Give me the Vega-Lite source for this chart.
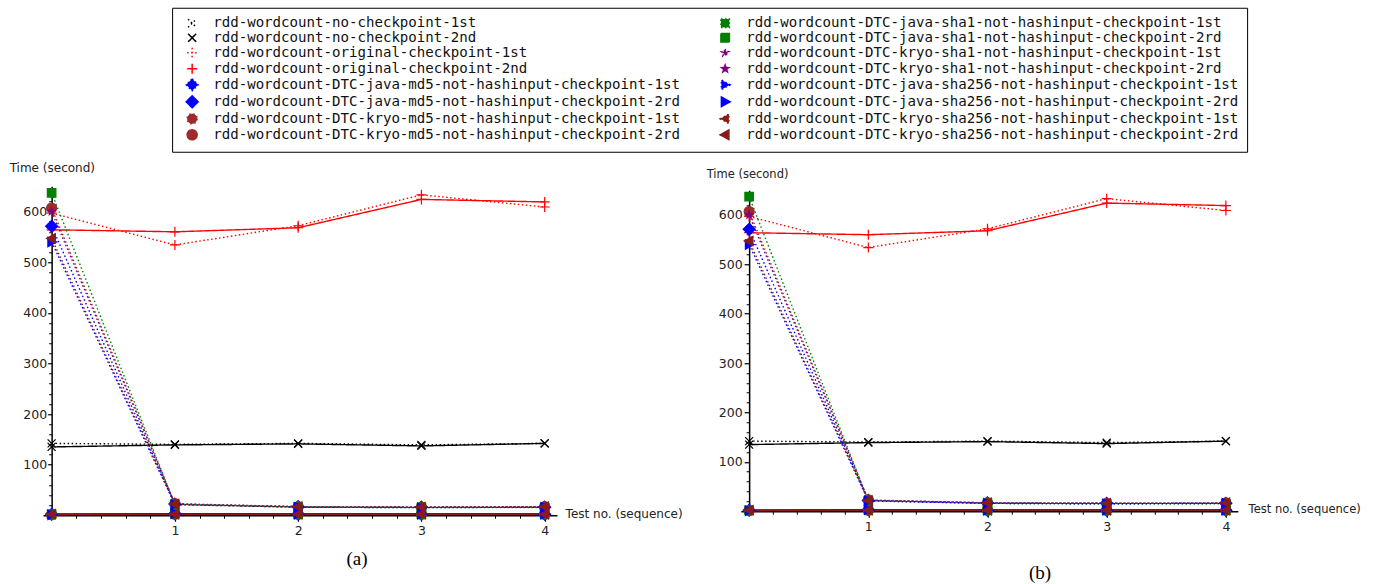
{
  "$schema": "https://vega.github.io/schema/vega-lite/v6.json",
  "background": "white",
  "autosize": {"type": "pad"},
  "padding": {"left": 9, "top": 7.25, "right": 4, "bottom": 0},
  "bounds": "flush",
  "center": true,
  "spacing": 183.8,
  "datasets": {
    "d": [
      {"s": "rdd-wordcount-no-checkpoint-1st", "x": 0, "t": 142},
      {"s": "rdd-wordcount-no-checkpoint-1st", "x": 1, "t": 140},
      {"s": "rdd-wordcount-no-checkpoint-1st", "x": 2, "t": 142},
      {"s": "rdd-wordcount-no-checkpoint-1st", "x": 3, "t": 139},
      {"s": "rdd-wordcount-no-checkpoint-1st", "x": 4, "t": 142},
      {"s": "rdd-wordcount-no-checkpoint-2nd", "x": 0, "t": 135},
      {"s": "rdd-wordcount-no-checkpoint-2nd", "x": 1, "t": 139},
      {"s": "rdd-wordcount-no-checkpoint-2nd", "x": 2, "t": 141},
      {"s": "rdd-wordcount-no-checkpoint-2nd", "x": 3, "t": 137},
      {"s": "rdd-wordcount-no-checkpoint-2nd", "x": 4, "t": 142},
      {"s": "rdd-wordcount-original-checkpoint-1st", "x": 0, "t": 597},
      {"s": "rdd-wordcount-original-checkpoint-1st", "x": 1, "t": 534},
      {"s": "rdd-wordcount-original-checkpoint-1st", "x": 2, "t": 572},
      {"s": "rdd-wordcount-original-checkpoint-1st", "x": 3, "t": 633},
      {"s": "rdd-wordcount-original-checkpoint-1st", "x": 4, "t": 609},
      {"s": "rdd-wordcount-original-checkpoint-2nd", "x": 0, "t": 564},
      {"s": "rdd-wordcount-original-checkpoint-2nd", "x": 1, "t": 560},
      {"s": "rdd-wordcount-original-checkpoint-2nd", "x": 2, "t": 568},
      {"s": "rdd-wordcount-original-checkpoint-2nd", "x": 3, "t": 624},
      {"s": "rdd-wordcount-original-checkpoint-2nd", "x": 4, "t": 619},
      {"s": "rdd-wordcount-DTC-java-md5-not-hashinput-checkpoint-1st", "x": 0, "t": 571},
      {"s": "rdd-wordcount-DTC-java-md5-not-hashinput-checkpoint-1st", "x": 1, "t": 22},
      {"s": "rdd-wordcount-DTC-java-md5-not-hashinput-checkpoint-1st", "x": 2, "t": 17},
      {"s": "rdd-wordcount-DTC-java-md5-not-hashinput-checkpoint-1st", "x": 3, "t": 16},
      {"s": "rdd-wordcount-DTC-java-md5-not-hashinput-checkpoint-1st", "x": 4, "t": 16},
      {"s": "rdd-wordcount-DTC-java-md5-not-hashinput-checkpoint-2rd", "x": 0, "t": 2},
      {"s": "rdd-wordcount-DTC-java-md5-not-hashinput-checkpoint-2rd", "x": 1, "t": 3},
      {"s": "rdd-wordcount-DTC-java-md5-not-hashinput-checkpoint-2rd", "x": 2, "t": 2},
      {"s": "rdd-wordcount-DTC-java-md5-not-hashinput-checkpoint-2rd", "x": 3, "t": 2},
      {"s": "rdd-wordcount-DTC-java-md5-not-hashinput-checkpoint-2rd", "x": 4, "t": 2},
      {"s": "rdd-wordcount-DTC-kryo-md5-not-hashinput-checkpoint-1st", "x": 0, "t": 607},
      {"s": "rdd-wordcount-DTC-kryo-md5-not-hashinput-checkpoint-1st", "x": 1, "t": 23},
      {"s": "rdd-wordcount-DTC-kryo-md5-not-hashinput-checkpoint-1st", "x": 2, "t": 17},
      {"s": "rdd-wordcount-DTC-kryo-md5-not-hashinput-checkpoint-1st", "x": 3, "t": 16},
      {"s": "rdd-wordcount-DTC-kryo-md5-not-hashinput-checkpoint-1st", "x": 4, "t": 17},
      {"s": "rdd-wordcount-DTC-kryo-md5-not-hashinput-checkpoint-2rd", "x": 0, "t": 1},
      {"s": "rdd-wordcount-DTC-kryo-md5-not-hashinput-checkpoint-2rd", "x": 1, "t": 2},
      {"s": "rdd-wordcount-DTC-kryo-md5-not-hashinput-checkpoint-2rd", "x": 2, "t": 2},
      {"s": "rdd-wordcount-DTC-kryo-md5-not-hashinput-checkpoint-2rd", "x": 3, "t": 2},
      {"s": "rdd-wordcount-DTC-kryo-md5-not-hashinput-checkpoint-2rd", "x": 4, "t": 2},
      {"s": "rdd-wordcount-DTC-java-sha1-not-hashinput-checkpoint-1st", "x": 0, "t": 637},
      {"s": "rdd-wordcount-DTC-java-sha1-not-hashinput-checkpoint-1st", "x": 1, "t": 21},
      {"s": "rdd-wordcount-DTC-java-sha1-not-hashinput-checkpoint-1st", "x": 2, "t": 16},
      {"s": "rdd-wordcount-DTC-java-sha1-not-hashinput-checkpoint-1st", "x": 3, "t": 15},
      {"s": "rdd-wordcount-DTC-java-sha1-not-hashinput-checkpoint-1st", "x": 4, "t": 15},
      {"s": "rdd-wordcount-DTC-java-sha1-not-hashinput-checkpoint-2rd", "x": 0, "t": 2},
      {"s": "rdd-wordcount-DTC-java-sha1-not-hashinput-checkpoint-2rd", "x": 1, "t": 3},
      {"s": "rdd-wordcount-DTC-java-sha1-not-hashinput-checkpoint-2rd", "x": 2, "t": 2},
      {"s": "rdd-wordcount-DTC-java-sha1-not-hashinput-checkpoint-2rd", "x": 3, "t": 2},
      {"s": "rdd-wordcount-DTC-java-sha1-not-hashinput-checkpoint-2rd", "x": 4, "t": 2},
      {"s": "rdd-wordcount-DTC-kryo-sha1-not-hashinput-checkpoint-1st", "x": 0, "t": 600},
      {"s": "rdd-wordcount-DTC-kryo-sha1-not-hashinput-checkpoint-1st", "x": 1, "t": 22},
      {"s": "rdd-wordcount-DTC-kryo-sha1-not-hashinput-checkpoint-1st", "x": 2, "t": 16},
      {"s": "rdd-wordcount-DTC-kryo-sha1-not-hashinput-checkpoint-1st", "x": 3, "t": 16},
      {"s": "rdd-wordcount-DTC-kryo-sha1-not-hashinput-checkpoint-1st", "x": 4, "t": 16},
      {"s": "rdd-wordcount-DTC-kryo-sha1-not-hashinput-checkpoint-2rd", "x": 0, "t": 2},
      {"s": "rdd-wordcount-DTC-kryo-sha1-not-hashinput-checkpoint-2rd", "x": 1, "t": 2},
      {"s": "rdd-wordcount-DTC-kryo-sha1-not-hashinput-checkpoint-2rd", "x": 2, "t": 2},
      {"s": "rdd-wordcount-DTC-kryo-sha1-not-hashinput-checkpoint-2rd", "x": 3, "t": 2},
      {"s": "rdd-wordcount-DTC-kryo-sha1-not-hashinput-checkpoint-2rd", "x": 4, "t": 2},
      {"s": "rdd-wordcount-DTC-java-sha256-not-hashinput-checkpoint-1st", "x": 0, "t": 540},
      {"s": "rdd-wordcount-DTC-java-sha256-not-hashinput-checkpoint-1st", "x": 1, "t": 21},
      {"s": "rdd-wordcount-DTC-java-sha256-not-hashinput-checkpoint-1st", "x": 2, "t": 16},
      {"s": "rdd-wordcount-DTC-java-sha256-not-hashinput-checkpoint-1st", "x": 3, "t": 15},
      {"s": "rdd-wordcount-DTC-java-sha256-not-hashinput-checkpoint-1st", "x": 4, "t": 16},
      {"s": "rdd-wordcount-DTC-java-sha256-not-hashinput-checkpoint-2rd", "x": 0, "t": 1},
      {"s": "rdd-wordcount-DTC-java-sha256-not-hashinput-checkpoint-2rd", "x": 1, "t": 3},
      {"s": "rdd-wordcount-DTC-java-sha256-not-hashinput-checkpoint-2rd", "x": 2, "t": 2},
      {"s": "rdd-wordcount-DTC-java-sha256-not-hashinput-checkpoint-2rd", "x": 3, "t": 2},
      {"s": "rdd-wordcount-DTC-java-sha256-not-hashinput-checkpoint-2rd", "x": 4, "t": 2},
      {"s": "rdd-wordcount-DTC-kryo-sha256-not-hashinput-checkpoint-1st", "x": 0, "t": 547},
      {"s": "rdd-wordcount-DTC-kryo-sha256-not-hashinput-checkpoint-1st", "x": 1, "t": 22},
      {"s": "rdd-wordcount-DTC-kryo-sha256-not-hashinput-checkpoint-1st", "x": 2, "t": 17},
      {"s": "rdd-wordcount-DTC-kryo-sha256-not-hashinput-checkpoint-1st", "x": 3, "t": 16},
      {"s": "rdd-wordcount-DTC-kryo-sha256-not-hashinput-checkpoint-1st", "x": 4, "t": 17},
      {"s": "rdd-wordcount-DTC-kryo-sha256-not-hashinput-checkpoint-2rd", "x": 0, "t": 2},
      {"s": "rdd-wordcount-DTC-kryo-sha256-not-hashinput-checkpoint-2rd", "x": 1, "t": 2},
      {"s": "rdd-wordcount-DTC-kryo-sha256-not-hashinput-checkpoint-2rd", "x": 2, "t": 2},
      {"s": "rdd-wordcount-DTC-kryo-sha256-not-hashinput-checkpoint-2rd", "x": 3, "t": 2},
      {"s": "rdd-wordcount-DTC-kryo-sha256-not-hashinput-checkpoint-2rd", "x": 4, "t": 2}
    ]
  },
  "hconcat": [
    {
      "width": 514,
      "height": 329,
      "data": {"name": "d"},
      "title": {"text": "(a)", "orient": "bottom", "anchor": "middle", "frame": "group", "dx": 57, "offset": 13, "font": "Liberation Serif", "fontSize": 19, "fontWeight": "normal", "color": "#000"},
      "layer": [
        {
          "mark": {"type": "line", "strokeWidth": 1.4},
          "encoding": {
            "x": {"field": "x", "type": "quantitative", "scale": {"domain": [-0.07, 4.1], "nice": false, "zero": false},
              "axis": {"values": [1, 2, 3, 4], "format": "d", "tickSize": 6, "labelPadding": 3, "labelFontSize": 12.5, "title": "Test no. (sequence)", "titleAngle": 0, "titleAlign": "left", "titleBaseline": "middle", "titleX": 522.1, "titleY": -2, "titleFontSize": 12}},
            "y": {"field": "t", "type": "quantitative", "scale": {"domain": [0, 650], "nice": false},
              "axis": {"values": [100, 200, 300, 400, 500, 600], "offset": -8.63, "tickSize": 4, "labelPadding": 1, "labelFontSize": 12.5, "title": "Time (second)", "titleAngle": 0, "titleAlign": "left", "titleBaseline": "middle", "titleX": -42.5, "titleY": -18.5, "titleFontSize": 12}},
            "stroke": {"field": "s", "type": "nominal", "title": null,
              "scale": {"domain": ["rdd-wordcount-no-checkpoint-1st", "rdd-wordcount-no-checkpoint-2nd", "rdd-wordcount-original-checkpoint-1st", "rdd-wordcount-original-checkpoint-2nd", "rdd-wordcount-DTC-java-md5-not-hashinput-checkpoint-1st", "rdd-wordcount-DTC-java-md5-not-hashinput-checkpoint-2rd", "rdd-wordcount-DTC-kryo-md5-not-hashinput-checkpoint-1st", "rdd-wordcount-DTC-kryo-md5-not-hashinput-checkpoint-2rd", "rdd-wordcount-DTC-java-sha1-not-hashinput-checkpoint-1st", "rdd-wordcount-DTC-java-sha1-not-hashinput-checkpoint-2rd", "rdd-wordcount-DTC-kryo-sha1-not-hashinput-checkpoint-1st", "rdd-wordcount-DTC-kryo-sha1-not-hashinput-checkpoint-2rd", "rdd-wordcount-DTC-java-sha256-not-hashinput-checkpoint-1st", "rdd-wordcount-DTC-java-sha256-not-hashinput-checkpoint-2rd", "rdd-wordcount-DTC-kryo-sha256-not-hashinput-checkpoint-1st", "rdd-wordcount-DTC-kryo-sha256-not-hashinput-checkpoint-2rd"],
                "range": ["#000000", "#000000", "#ff0000", "#ff0000", "#0000ff", "#0000ff", "#9e2a2b", "#9e2a2b", "#008000", "#008000", "#800080", "#800080", "#0000ff", "#0000ff", "#8b1a1a", "#8b1a1a"]}},
            "strokeDash": {"field": "s", "type": "nominal", "title": null,
              "scale": {"domain": ["rdd-wordcount-no-checkpoint-1st", "rdd-wordcount-no-checkpoint-2nd", "rdd-wordcount-original-checkpoint-1st", "rdd-wordcount-original-checkpoint-2nd", "rdd-wordcount-DTC-java-md5-not-hashinput-checkpoint-1st", "rdd-wordcount-DTC-java-md5-not-hashinput-checkpoint-2rd", "rdd-wordcount-DTC-kryo-md5-not-hashinput-checkpoint-1st", "rdd-wordcount-DTC-kryo-md5-not-hashinput-checkpoint-2rd", "rdd-wordcount-DTC-java-sha1-not-hashinput-checkpoint-1st", "rdd-wordcount-DTC-java-sha1-not-hashinput-checkpoint-2rd", "rdd-wordcount-DTC-kryo-sha1-not-hashinput-checkpoint-1st", "rdd-wordcount-DTC-kryo-sha1-not-hashinput-checkpoint-2rd", "rdd-wordcount-DTC-java-sha256-not-hashinput-checkpoint-1st", "rdd-wordcount-DTC-java-sha256-not-hashinput-checkpoint-2rd", "rdd-wordcount-DTC-kryo-sha256-not-hashinput-checkpoint-1st", "rdd-wordcount-DTC-kryo-sha256-not-hashinput-checkpoint-2rd"],
                "range": [[1.5, 2.5], [1, 0], [1.5, 2.5], [1, 0], [1.5, 2.5], [1, 0], [1.5, 2.5], [1, 0], [1.5, 2.5], [1, 0], [1.5, 2.5], [1, 0], [1.5, 2.5], [1, 0], [1.5, 2.5], [1, 0]]}}
          }
        },
        {
          "mark": {"type": "point", "filled": true, "size": 100, "strokeWidth": 1.2, "opacity": 1},
          "encoding": {
            "x": {"field": "x", "type": "quantitative", "axis": null},
            "y": {"field": "t", "type": "quantitative", "axis": null},
            "stroke": {"field": "s", "type": "nominal", "title": null,
              "scale": {"domain": ["rdd-wordcount-no-checkpoint-1st", "rdd-wordcount-no-checkpoint-2nd", "rdd-wordcount-original-checkpoint-1st", "rdd-wordcount-original-checkpoint-2nd", "rdd-wordcount-DTC-java-md5-not-hashinput-checkpoint-1st", "rdd-wordcount-DTC-java-md5-not-hashinput-checkpoint-2rd", "rdd-wordcount-DTC-kryo-md5-not-hashinput-checkpoint-1st", "rdd-wordcount-DTC-kryo-md5-not-hashinput-checkpoint-2rd", "rdd-wordcount-DTC-java-sha1-not-hashinput-checkpoint-1st", "rdd-wordcount-DTC-java-sha1-not-hashinput-checkpoint-2rd", "rdd-wordcount-DTC-kryo-sha1-not-hashinput-checkpoint-1st", "rdd-wordcount-DTC-kryo-sha1-not-hashinput-checkpoint-2rd", "rdd-wordcount-DTC-java-sha256-not-hashinput-checkpoint-1st", "rdd-wordcount-DTC-java-sha256-not-hashinput-checkpoint-2rd", "rdd-wordcount-DTC-kryo-sha256-not-hashinput-checkpoint-1st", "rdd-wordcount-DTC-kryo-sha256-not-hashinput-checkpoint-2rd"],
                "range": ["#000000", "#000000", "#ff0000", "#ff0000", "#0000ff", "#0000ff", "#9e2a2b", "#9e2a2b", "#008000", "#008000", "#800080", "#800080", "#0000ff", "#0000ff", "#8b1a1a", "#8b1a1a"]}},
            "fill": {"field": "s", "type": "nominal", "title": null,
              "scale": {"domain": ["rdd-wordcount-no-checkpoint-1st", "rdd-wordcount-no-checkpoint-2nd", "rdd-wordcount-original-checkpoint-1st", "rdd-wordcount-original-checkpoint-2nd", "rdd-wordcount-DTC-java-md5-not-hashinput-checkpoint-1st", "rdd-wordcount-DTC-java-md5-not-hashinput-checkpoint-2rd", "rdd-wordcount-DTC-kryo-md5-not-hashinput-checkpoint-1st", "rdd-wordcount-DTC-kryo-md5-not-hashinput-checkpoint-2rd", "rdd-wordcount-DTC-java-sha1-not-hashinput-checkpoint-1st", "rdd-wordcount-DTC-java-sha1-not-hashinput-checkpoint-2rd", "rdd-wordcount-DTC-kryo-sha1-not-hashinput-checkpoint-1st", "rdd-wordcount-DTC-kryo-sha1-not-hashinput-checkpoint-2rd", "rdd-wordcount-DTC-java-sha256-not-hashinput-checkpoint-1st", "rdd-wordcount-DTC-java-sha256-not-hashinput-checkpoint-2rd", "rdd-wordcount-DTC-kryo-sha256-not-hashinput-checkpoint-1st", "rdd-wordcount-DTC-kryo-sha256-not-hashinput-checkpoint-2rd"],
                "range": ["#000000", "#000000", "#ff0000", "#ff0000", "#0000ff", "#0000ff", "#9e2a2b", "#9e2a2b", "#008000", "#008000", "#800080", "#800080", "#0000ff", "#0000ff", "#8b1a1a", "#8b1a1a"]}},
            "shape": {"field": "s", "type": "nominal", "title": null,
              "scale": {"domain": ["rdd-wordcount-no-checkpoint-1st", "rdd-wordcount-no-checkpoint-2nd", "rdd-wordcount-original-checkpoint-1st", "rdd-wordcount-original-checkpoint-2nd", "rdd-wordcount-DTC-java-md5-not-hashinput-checkpoint-1st", "rdd-wordcount-DTC-java-md5-not-hashinput-checkpoint-2rd", "rdd-wordcount-DTC-kryo-md5-not-hashinput-checkpoint-1st", "rdd-wordcount-DTC-kryo-md5-not-hashinput-checkpoint-2rd", "rdd-wordcount-DTC-java-sha1-not-hashinput-checkpoint-1st", "rdd-wordcount-DTC-java-sha1-not-hashinput-checkpoint-2rd", "rdd-wordcount-DTC-kryo-sha1-not-hashinput-checkpoint-1st", "rdd-wordcount-DTC-kryo-sha1-not-hashinput-checkpoint-2rd", "rdd-wordcount-DTC-java-sha256-not-hashinput-checkpoint-1st", "rdd-wordcount-DTC-java-sha256-not-hashinput-checkpoint-2rd", "rdd-wordcount-DTC-kryo-sha256-not-hashinput-checkpoint-1st", "rdd-wordcount-DTC-kryo-sha256-not-hashinput-checkpoint-2rd"],
                "range": ["M-0.8,-0.8L0.8,0.8M-0.8,0.8L0.8,-0.8", "M-0.8,-0.8L0.8,0.8M-0.8,0.8L0.8,-0.8", "M-1,0L1,0M0,-1L0,1", "M-1,0L1,0M0,-1L0,1", "M0,-1.2L1.2,0L0,1.2L-1.2,0Z", "M0,-1.2L1.2,0L0,1.2L-1.2,0Z", "M1,0A1,1,0,1,1,-1,0A1,1,0,1,1,1,0Z", "M1,0A1,1,0,1,1,-1,0A1,1,0,1,1,1,0Z", "M-0.85,-0.85L0.85,-0.85L0.85,0.85L-0.85,0.85Z", "M-0.85,-0.85L0.85,-0.85L0.85,0.85L-0.85,0.85Z", "M0,-0.75L0.176,-0.243L0.713,-0.232L0.285,0.093L0.441,0.607L0,0.3L-0.441,0.607L-0.285,0.093L-0.713,-0.232L-0.176,-0.243Z", "M0,-0.75L0.176,-0.243L0.713,-0.232L0.285,0.093L0.441,0.607L0,0.3L-0.441,0.607L-0.285,0.093L-0.713,-0.232L-0.176,-0.243Z", "M1,0L-0.75,-0.95L-0.75,0.95Z", "M1,0L-0.75,-0.95L-0.75,0.95Z", "M-1,0L0.75,-0.95L0.75,0.95Z", "M-1,0L0.75,-0.95L0.75,0.95Z"]},
              "legend": {
                "orient": "none", "legendX": 129.1, "legendY": -178.5, "direction": "vertical", "columns": 2,
                "columnPadding": 33, "rowPadding": -3.5, "padding": 8, "symbolOffset": 5, "labelOffset": 14,
                "labelFont": "DejaVu Sans Mono", "labelFontSize": 14.1, "labelLimit": 1000, "labelColor": "#111",
                "symbolSize": 100, "symbolStrokeWidth": 1.5, "strokeColor": "#000", "fillColor": "#fff"
              }}
          }
        },
        {
          "mark": {"type": "point", "opacity": 0},
          "encoding": {
            "x": {"field": "x", "type": "quantitative",
              "axis": {"orient": "bottom", "values": [0.2, 0.4, 0.6, 0.8, 1.2, 1.4, 1.6, 1.8, 2.2, 2.4, 2.6, 2.8, 3.2, 3.4, 3.6, 3.8], "labels": false, "domain": false, "tickSize": 3, "tickWidth": 1, "title": null}},
            "y": {"field": "t", "type": "quantitative",
              "axis": {"orient": "left", "offset": -8.63, "values": [20, 40, 60, 80, 120, 140, 160, 180, 220, 240, 260, 280, 320, 340, 360, 380, 420, 440, 460, 480, 520, 540, 560, 580, 620, 640], "labels": false, "domain": false, "tickSize": 3, "tickWidth": 1, "title": null}}
          }
        }
      ],
      "resolve": {"axis": {"x": "independent", "y": "independent"}}
    },
    {
      "width": 497,
      "height": 321,
      "data": {"name": "d"},
      "title": {"text": "(b)", "orient": "bottom", "anchor": "middle", "frame": "group", "dx": 50.8, "offset": 31, "font": "Liberation Serif", "fontSize": 19, "fontWeight": "normal", "color": "#000"},
      "layer": [
        {
          "mark": {"type": "line", "strokeWidth": 1.4},
          "encoding": {
            "x": {"field": "x", "type": "quantitative", "scale": {"domain": [-0.07, 4.1], "nice": false, "zero": false},
              "axis": {"values": [1, 2, 3, 4], "format": "d", "tickSize": 6, "labelPadding": 3, "labelFontSize": 12.5, "title": "Test no. (sequence)", "titleAngle": 0, "titleAlign": "left", "titleBaseline": "middle", "titleX": 507.3, "titleY": -2, "titleFontSize": 11.5}},
            "y": {"field": "t", "type": "quantitative", "scale": {"domain": [0, 650], "nice": false},
              "axis": {"values": [100, 200, 300, 400, 500, 600], "offset": -8.34, "tickSize": 5, "labelPadding": 2, "labelFontSize": 12.5, "title": "Time (second)", "titleAngle": 0, "titleAlign": "left", "titleBaseline": "middle", "titleX": -43, "titleY": -15.5, "titleFontSize": 11.5}},
            "stroke": {"field": "s", "type": "nominal", "title": null},
            "strokeDash": {"field": "s", "type": "nominal", "title": null}
          }
        },
        {
          "mark": {"type": "point", "filled": true, "size": 100, "strokeWidth": 1.2, "opacity": 1},
          "encoding": {
            "x": {"field": "x", "type": "quantitative", "axis": null},
            "y": {"field": "t", "type": "quantitative", "axis": null},
            "stroke": {"field": "s", "type": "nominal", "title": null},
            "fill": {"field": "s", "type": "nominal", "title": null},
            "shape": {"field": "s", "type": "nominal", "title": null}
          }
        },
        {
          "mark": {"type": "point", "opacity": 0},
          "encoding": {
            "x": {"field": "x", "type": "quantitative",
              "axis": {"orient": "bottom", "values": [0.2, 0.4, 0.6, 0.8, 1.2, 1.4, 1.6, 1.8, 2.2, 2.4, 2.6, 2.8, 3.2, 3.4, 3.6, 3.8], "labels": false, "domain": false, "tickSize": 3, "tickWidth": 1, "title": null}},
            "y": {"field": "t", "type": "quantitative",
              "axis": {"orient": "left", "offset": -8.34, "values": [20, 40, 60, 80, 120, 140, 160, 180, 220, 240, 260, 280, 320, 340, 360, 380, 420, 440, 460, 480, 520, 540, 560, 580, 620, 640], "labels": false, "domain": false, "tickSize": 3, "tickWidth": 1, "title": null}}
          }
        }
      ],
      "resolve": {"axis": {"x": "independent", "y": "independent"}}
    }
  ],
  "resolve": {"scale": {"stroke": "shared", "fill": "shared", "shape": "shared", "strokeDash": "shared"}},
  "config": {
    "view": {"stroke": null},
    "axis": {"grid": false, "domainColor": "#000", "domainWidth": 1.5, "tickColor": "#000", "tickWidth": 1.2, "labelFont": "DejaVu Sans", "titleFont": "DejaVu Sans", "labelColor": "#222", "titleColor": "#222", "titleFontWeight": "normal", "labelFlush": false, "labelOverlap": false}
  }
}
